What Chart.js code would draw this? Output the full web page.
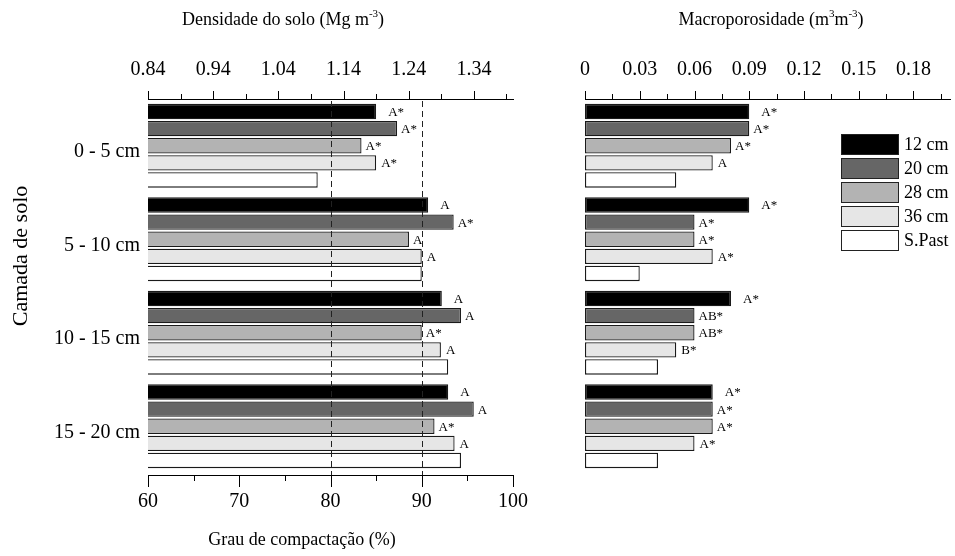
<!DOCTYPE html>
<html>
<head>
<meta charset="utf-8">
<script src="https://cdn.jsdelivr.net/npm/chart.js@4.4.1/dist/chart.umd.min.js"></script>
<style>
  body { margin: 0; background: #fff; }
  #wrap { position: relative; width: 955px; height: 556px; }
  #esq { position: absolute; left: 0; top: 0; }
  #dir { position: absolute; left: 560px; top: 0; }
</style>
</head>
<body>
<div id="wrap">
  <canvas id="esq" width="560" height="556"></canvas>
  <canvas id="dir" width="395" height="556"></canvas>
</div>
<script>
const camadas = ['0 - 5 cm', '5 - 10 cm', '10 - 15 cm', '15 - 20 cm'];
const tratamentos = ['12 cm', '20 cm', '28 cm', '36 cm', 'S.Past'];
const cores = ['#000000', '#666666', '#b3b3b3', '#e6e6e6', '#ffffff'];

// grau de compactação (%)
const gc12 = [85.0, 90.7, 92.2, 92.9];
const gc20 = [87.3, 93.5, 94.3, 95.7];
const gc28 = [83.4, 88.6, 90.0, 91.4];
const gc36 = [85.0, 90.0, 92.1, 93.6];
const gcSP = [78.6, 90.0, 92.9, 94.3];

const gcLet12 = ['A*', 'A', 'A', 'A'];
const gcLet20 = ['A*', 'A*', 'A', 'A'];
const gcLet28 = ['A*', 'A', 'A*', 'A*'];
const gcLet36 = ['A*', 'A', 'A', 'A'];
const gcLetSP = ['', '', '', ''];

// macroporosidade (m3 m-3)
const mp12 = [0.09, 0.09, 0.08, 0.07];
const mp20 = [0.09, 0.06, 0.06, 0.07];
const mp28 = [0.08, 0.06, 0.06, 0.07];
const mp36 = [0.07, 0.07, 0.05, 0.06];
const mpSP = [0.05, 0.03, 0.04, 0.04];

const mpLet12 = ['A*', 'A*', 'A*', 'A*'];
const mpLet20 = ['A*', 'A*', 'AB*', 'A*'];
const mpLet28 = ['A*', 'A*', 'AB*', 'A*'];
const mpLet36 = ['A', 'A*', 'B*', 'A*'];
const mpLetSP = ['', '', '', ''];

// ticks
const gcTicks = [60, 70, 80, 90, 100];
const gcMinor = [65, 75, 85, 95];
const dsTicks = [0.84, 0.94, 1.04, 1.14, 1.24, 1.34];
const dsMinor = [0.89, 0.99, 1.09, 1.19, 1.29, 1.39];
const mpTicks = [0, 0.03, 0.06, 0.09, 0.12, 0.15, 0.18];
const mpMinor = [0.015, 0.045, 0.075, 0.105, 0.135, 0.165, 0.195];
const linhasRef = [80, 90];

const familia = '"Liberation Serif", "Times New Roman", serif';
const fonteTick = { family: familia, size: 20 };

function montarDatasets(series) {
    return series.map((vals, i) => ({
        label: tratamentos[i],
        data: vals,
        backgroundColor: cores[i],
        borderColor: '#1a1a1a',
        borderWidth: 1.3,
        borderSkipped: false,
        barPercentage: 0.9,
        categoryPercentage: 0.915
    }));
}

function fixarTicks(lista) {
    return scale => { scale.ticks = lista.map(v => ({ value: v })); };
}

// eixos desenhados à mao: linha + ticks maiores/menores + linhas tracejadas
const eixos = {
    id: 'eixos',
    afterDatasetsDraw(chart, args, opts) {
        const ctx = chart.ctx;
        const area = chart.chartArea;
        ctx.save();
        ctx.strokeStyle = '#000';
        ctx.lineWidth = 1;
        (opts.axes || []).forEach(ax => {
            const sc = chart.scales[ax.id];
            const y = ax.side === 'top' ? area.top : area.bottom + ax.shift;
            const dir = ax.side === 'top' ? -1 : 1;
            ctx.beginPath();
            ctx.moveTo(area.left, y + 0.5);
            ctx.lineTo(area.right + 1, y + 0.5);
            ax.major.forEach(v => {
                const x = Math.round(sc.getPixelForValue(v)) + 0.5;
                ctx.moveTo(x, y);
                ctx.lineTo(x, y + dir * ax.majorLen);
            });
            ax.minor.forEach(v => {
                const x = Math.round(sc.getPixelForValue(v)) + 0.5;
                ctx.moveTo(x, y);
                ctx.lineTo(x, y + dir * ax.minorLen);
            });
            ctx.stroke();
        });
        if (opts.dashed) {
            const sc = chart.scales[opts.dashed.id];
            ctx.setLineDash([6, 4]);
            ctx.strokeStyle = '#222';
            opts.dashed.values.forEach(v => {
                const x = Math.round(sc.getPixelForValue(v)) + 0.5;
                ctx.beginPath();
                ctx.moveTo(x, area.top + 2);
                ctx.lineTo(x, area.bottom + opts.dashed.shift);
                ctx.stroke();
            });
        }
        ctx.restore();
    }
};

// letras ao lado das barras
const letras = {
    id: 'letras',
    afterDatasetsDraw(chart, args, opts) {
        const ctx = chart.ctx;
        ctx.save();
        ctx.font = '13px ' + familia;
        ctx.fillStyle = '#000';
        ctx.textBaseline = 'middle';
        ctx.textAlign = 'left';
        chart.data.datasets.forEach((ds, i) => {
            chart.getDatasetMeta(i).data.forEach((bar, j) => {
                const t = opts.labels[i][j];
                if (t) ctx.fillText(t, bar.x + opts.offsets[i], bar.y + 1);
            });
        });
        ctx.restore();
    }
};

// legenda dentro do painel da direita
const legenda = {
    id: 'legenda',
    afterDraw(chart, args, opts) {
        if (!opts.show) return;
        const ctx = chart.ctx;
        ctx.save();
        ctx.font = '18px ' + familia;
        ctx.textBaseline = 'middle';
        chart.data.datasets.forEach((ds, i) => {
            const y = opts.top + i * opts.step;
            ctx.fillStyle = ds.backgroundColor;
            ctx.fillRect(opts.left, y, opts.w, opts.h);
            ctx.strokeStyle = '#222';
            ctx.lineWidth = 1;
            ctx.strokeRect(opts.left + 0.5, y + 0.5, opts.w - 1, opts.h - 1);
            ctx.fillStyle = '#000';
            ctx.fillText(ds.label, opts.left + opts.w + 5, y + opts.h / 2 + 1);
        });
        ctx.restore();
    }
};

// titulos com sobrescrito
const titulos = {
    id: 'titulos',
    afterDraw(chart, args, opts) {
        const ctx = chart.ctx;
        (opts.items || []).forEach(it => {
            ctx.save();
            ctx.translate(it.x, it.y);
            if (it.rot) ctx.rotate(it.rot);
            ctx.fillStyle = '#000';
            ctx.textBaseline = 'middle';
            ctx.textAlign = 'left';
            const tam = it.size || 18;
            const fN = tam + 'px ' + familia, fS = Math.round(tam * 0.6) + 'px ' + familia;
            let w = 0;
            it.parts.forEach(p => { ctx.font = p.sup ? fS : fN; w += ctx.measureText(p.t).width; });
            let x = -w / 2;
            it.parts.forEach(p => {
                ctx.font = p.sup ? fS : fN;
                ctx.fillText(p.t, x, p.sup ? -6 : 0);
                x += ctx.measureText(p.t).width;
            });
            ctx.restore();
        });
    }
};

const semGrade = { display: false, drawTicks: false };

new Chart(document.getElementById('esq'), {
    type: 'bar',
    data: { labels: camadas, datasets: montarDatasets([gc12, gc20, gc28, gc36, gcSP]) },
    plugins: [eixos, letras, titulos],
    options: {
        indexAxis: 'y',
        responsive: false,
        animation: false,
        layout: { padding: { left: 0, right: 47, top: 0, bottom: 0 } },
        plugins: {
            legend: { display: false },
            tooltip: { enabled: false },
            eixos: {
                axes: [
                    { id: 'x', side: 'bottom', shift: 2, major: gcTicks, minor: gcMinor, majorLen: 12, minorLen: 6 },
                    { id: 'xTop', side: 'top', major: dsTicks, minor: dsMinor, majorLen: 8, minorLen: 5 }
                ],
                dashed: { id: 'x', values: linhasRef, shift: 2 }
            },
            letras: {
                labels: [gcLet12, gcLet20, gcLet28, gcLet36, gcLetSP],
                offsets: [12, 4, 4, 5, 4]
            },
            titulos: {
                items: [
                    { x: 283, y: 20, parts: [{ t: 'Densidade do solo (Mg m' }, { t: '-3', sup: true }, { t: ')' }] },
                    { x: 302, y: 540, parts: [{ t: 'Grau de compactação (%)' }] },
                    { x: 21, y: 256, size: 22, rot: -Math.PI / 2, parts: [{ t: 'Camada de solo' }] }
                ]
            }
        },
        scales: {
            x: {
                type: 'linear', position: 'bottom', min: 60, max: 100,
                afterBuildTicks: fixarTicks(gcTicks),
                afterFit: s => { s.height = 83; },
                grid: semGrade, border: { display: false },
                ticks: { font: fonteTick, color: '#000', padding: 17, maxRotation: 0, autoSkip: false }
            },
            xTop: {
                type: 'linear', position: 'top', min: 0.84, max: 1.4,
                afterBuildTicks: fixarTicks(dsTicks),
                afterFit: s => { s.height = 99; },
                grid: semGrade, border: { display: false },
                ticks: { font: fonteTick, color: '#000', padding: 17, maxRotation: 0, autoSkip: false,
                         callback: v => v.toFixed(2) }
            },
            y: {
                type: 'category', position: 'left',
                afterFit: s => { s.width = 148; },
                grid: semGrade, border: { display: false },
                ticks: { font: fonteTick, color: '#000', padding: 8, labelOffset: 6 }
            }
        }
    }
});

new Chart(document.getElementById('dir'), {
    type: 'bar',
    data: { labels: camadas, datasets: montarDatasets([mp12, mp20, mp28, mp36, mpSP]) },
    plugins: [eixos, letras, legenda, titulos],
    options: {
        indexAxis: 'y',
        responsive: false,
        animation: false,
        layout: { padding: { left: 25, right: 5, top: 0, bottom: 83 } },
        plugins: {
            legend: { display: false },
            tooltip: { enabled: false },
            eixos: {
                axes: [
                    { id: 'x', side: 'top', major: mpTicks, minor: mpMinor, majorLen: 8, minorLen: 5 }
                ]
            },
            letras: {
                labels: [mpLet12, mpLet20, mpLet28, mpLet36, mpLetSP],
                offsets: [12, 4, 4, 5, 4]
            },
            legenda: { show: true, left: 281, top: 134, step: 24, w: 58, h: 21 },
            titulos: {
                items: [
                    { x: 211, y: 20, parts: [{ t: 'Macroporosidade (m' }, { t: '3', sup: true }, { t: 'm' }, { t: '-3', sup: true }, { t: ')' }] }
                ]
            }
        },
        scales: {
            x: {
                type: 'linear', position: 'top', min: 0, max: 0.2,
                afterBuildTicks: fixarTicks(mpTicks),
                afterFit: s => { s.height = 99; },
                grid: semGrade, border: { display: false },
                ticks: { font: fonteTick, color: '#000', padding: 17, maxRotation: 0, autoSkip: false,
                         callback: v => (v === 0 ? '0' : v.toFixed(2)) }
            },
            y: {
                type: 'category', display: false
            }
        }
    }
});
</script>
</body>
</html>
